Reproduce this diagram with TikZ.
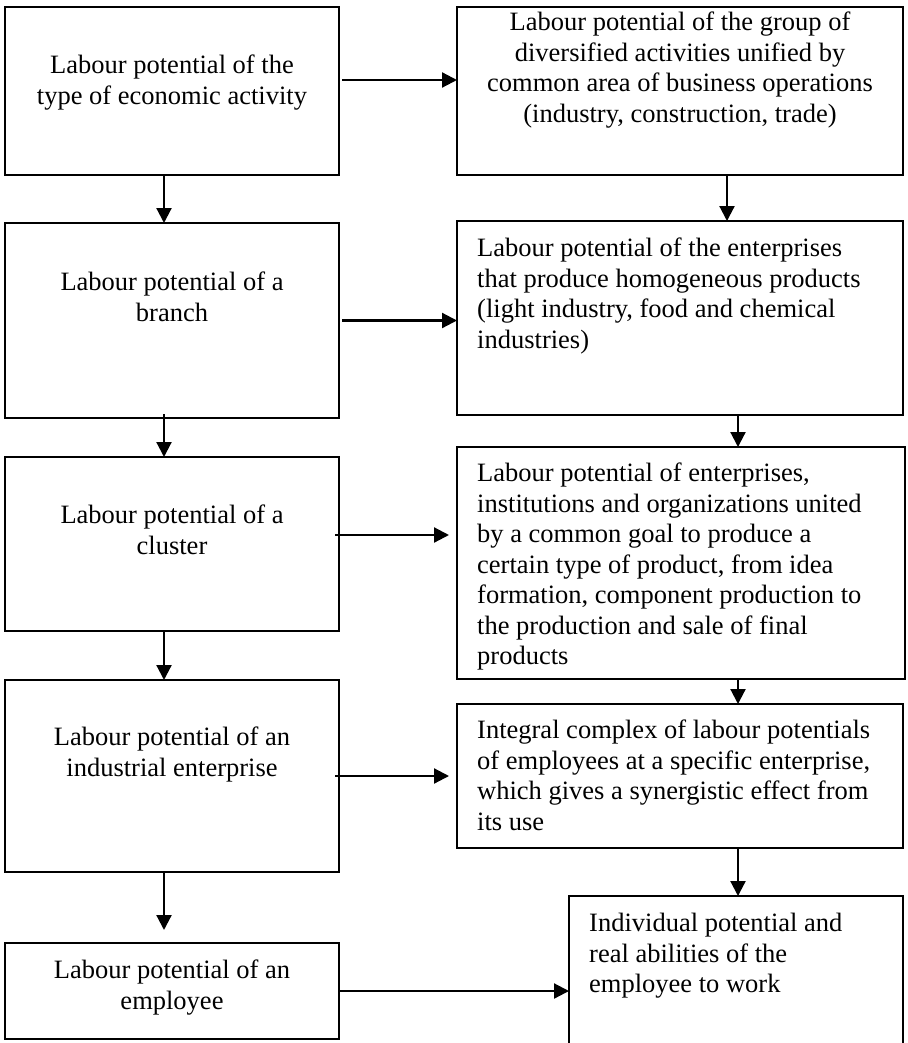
\documentclass[tikz,border=0pt]{standalone}
\usepackage{fontspec}
\setmainfont{Liberation Serif}
\usetikzlibrary{arrows.meta}
\newcommand\boxfont{\fontsize{26.5}{30.5}\selectfont}
\begin{document}
\begin{tikzpicture}[x=1pt,y=-1pt,
  box/.style={draw, line width=1.8pt, inner sep=0pt, outer sep=0pt},
  ctext/.style={inner sep=0pt, align=center, font=\boxfont, anchor=north},
  ltext/.style={inner sep=0pt, align=left, font=\boxfont, anchor=north west},
  arr/.style={line width=2.2pt, -{Triangle[length=15pt,width=15pt]}}]
\clip (0,0) rectangle (907,1043);

% left column: levels of labour potential
\node[box, minimum width=334pt, minimum height=168pt] (L1) at (172,91) {};
\node[box, minimum width=334pt, minimum height=195pt] (L2) at (172,320.5) {};
\node[box, minimum width=334pt, minimum height=174pt] (L3) at (172,544) {};
\node[box, minimum width=334pt, minimum height=192pt] (L4) at (172,776) {};
\node[box, minimum width=334pt, minimum height=96pt]  (L5) at (172,991) {};

\node[ctext] (L1t) at (172,52) {\strut Labour potential of the\\type of economic activity};
\node[ctext] (L2t) at (172,269) {\strut Labour potential of a\\branch};
\node[ctext] (L3t) at (172,502) {\strut Labour potential of a\\cluster};
\node[ctext] (L4t) at (172,724) {\strut Labour potential of an\\industrial enterprise};
\node[ctext] (L5t) at (172,957) {\strut Labour potential of an\\employee};

% right column: what each level covers
\node[box, minimum width=446pt, minimum height=168pt] (R1) at (680,91) {};
\node[box, minimum width=446pt, minimum height=194pt] (R2) at (680,318) {};
\node[box, minimum width=448pt, minimum height=232pt] (R3) at (681,563) {};
\node[box, minimum width=446pt, minimum height=144pt] (R4) at (680,776) {};
\node[box, minimum width=334pt, minimum height=174pt] (R5) at (736,983) {};

\node[ctext] (R1t) at (680,9) {\strut Labour potential of the group of\\diversified activities unified by\\common area of business operations\\(industry, construction, trade)};
\node[ltext] (R2t) at (477,235) {\strut Labour potential of the enterprises\\that produce homogeneous products\\(light industry, food and chemical\\industries)};
\node[ltext] (R3t) at (477,460) {\strut Labour potential of enterprises,\\institutions and organizations united\\by a common goal to produce a\\certain type of product, from idea\\formation, component production to\\the production and sale of final\\products};
\node[ltext] (R4t) at (477,717) {\strut Integral complex of labour potentials\\of employees at a specific enterprise,\\which gives a synergistic effect from\\its use};
\node[ltext] (R5t) at (589,910) {\strut Individual potential and\\real abilities of the\\employee to work};

% horizontal links
\draw[arr] ([xshift=3pt,yshift=11pt]L1.east) -- ([yshift=11pt]R1.west);
\draw[arr] ([xshift=3pt]L2.east) -- (L2.east -| R2.west);
\draw[arr] ([xshift=-4pt,yshift=9pt]L3.east) -- ([xshift=-8pt,yshift=28pt]R3.west);
\draw[arr] ([xshift=-4pt]L4.east) -- ([xshift=-8pt]R4.west);
\draw[arr] (L5.east) -- (L5.east -| R5.west);

% vertical links, left column
\draw[arr] ([xshift=-8pt]L1.south) -- ([xshift=-8pt]L2.north);
\draw[arr] ([xshift=-8pt,yshift=4pt]L2.south) -- ([xshift=-8pt]L3.north);
\draw[arr] ([xshift=-8pt]L3.south) -- ([xshift=-8pt]L4.north);
\draw[arr] ([xshift=-8pt]L4.south) -- ([xshift=-8pt,yshift=13pt]L5.north);

% vertical links, right column
\draw[arr] ([xshift=47pt]R1.south) -- ([xshift=47pt]R2.north);
\draw[arr] ([xshift=58pt]R2.south) -- ([xshift=57pt]R3.north);
\draw[arr] ([xshift=57pt]R3.south) -- ([xshift=58pt]R4.north);
\draw[arr] ([xshift=58pt]R4.south) -- ([xshift=2pt]R5.north);
\end{tikzpicture}
\end{document}
